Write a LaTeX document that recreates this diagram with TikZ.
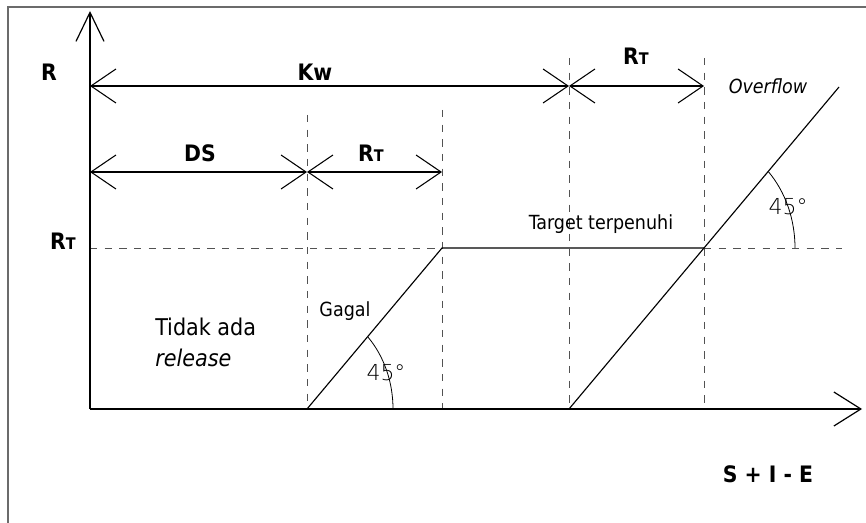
\documentclass[tikz,border=0pt]{standalone}
\usepackage{fontspec}
\setmainfont{DejaVu Sans Condensed}
\newfontfamily\thinfont{DejaVu Sans ExtraLight}
\usetikzlibrary{arrows.meta}

\tikzset{
  frameline/.style={draw=black!58, line width=1.5pt},
  axisline/.style={line width=0.9pt},
  ytip/.style={-{Straight Barb[length=21.75pt, width=21pt]}},
  xtip/.style={-{Straight Barb[length=20.25pt, width=25.5pt]}},
  dimline/.style={line width=0.8pt,
    {Straight Barb[length=18.75pt, width=25.5pt]}-{Straight Barb[length=18.75pt, width=25.5pt]}},
  guide/.style={draw=black!68, line width=0.7pt, dash pattern=on 5.5pt off 5.5pt},
  curveline/.style={line width=0.85pt},
  anglearc/.style={line width=0.6pt},
  boldlbl/.style={inner sep=0pt, anchor=base, font=\fontsize{17}{20}\selectfont\bfseries},
  plainlbl/.style={inner sep=0pt, anchor=base, font=\fontsize{14.6}{18}\selectfont},
  biglbl/.style={inner sep=0pt, anchor=base west, font=\fontsize{17.3}{20}\selectfont},
  anglelbl/.style={inner sep=0pt, anchor=base, font=\fontsize{16.5}{18}\thinfont},
}
\newcommand{\RT}{R{\fontsize{12}{12}\selectfont T}}

\begin{document}
\begin{tikzpicture}[x=0.75pt, y=-0.75pt]
\useasboundingbox (0,0) rectangle (866,523);

% frame lines along the top and left edge
\coordinate (fcorner) at (8,7);
\coordinate (fright) at (866,7);
\coordinate (fbottom) at (8,523);
\draw[frameline] (fbottom) -- (fcorner) -- (fright);

% key points on the axes
\coordinate (O) at (90,409);
\coordinate (ytop) at (90,11);
\coordinate (xend) at (862,409);
\coordinate (xa) at (307,409);
\coordinate (xb) at (442,409);
\coordinate (xc) at (569,409);
\coordinate (xd) at (704,409);
\coordinate (ta) at (307,115);
\coordinate (tb) at (442,110);
\coordinate (tc) at (569,58);
\coordinate (td) at (704,58);

% target level
\coordinate (rl) at (90,248);
\coordinate (rb) at (442,248);
\coordinate (rd) at (704,248);
\coordinate (re) at (842,248);
\coordinate (ovtop) at (839,87);

% dimension lines
\coordinate (k0) at (90,86);
\coordinate (k1) at (569,86);
\coordinate (k2) at (704,86);
\coordinate (d0) at (90,172);
\coordinate (d1) at (307,172);
\coordinate (d2) at (442,172);

% guides
\draw[guide] (ta) -- (xa);
\draw[guide] (tb) -- (xb);
\draw[guide] (tc) -- (xc);
\draw[guide] (td) -- (xd);
\draw[guide] (rl) -- (rb);
\draw[guide] (rd) -- (re);

% axes
\draw[axisline, ytip] (O) -- (ytop);
\draw[axisline, xtip] (O) -- (xend);

% dimensions
\draw[dimline] (k0) -- (k1);
\draw[dimline] (k1) -- (k2);
\draw[dimline] (d0) -- (d1);
\draw[dimline] (d1) -- (d2);

% release curve
\draw[curveline] (xa) -- (rb) -- (rd);
\draw[curveline] (xc) -- (ovtop);

% 45 degree marks
\coordinate (arcA) at (393,409);
\coordinate (arcB) at (795,248);
\draw[anglearc] (arcA) arc[start angle=0, end angle=-45, x radius=86, y radius=102];
\draw[anglearc] (arcB) arc[start angle=0, end angle=-45, x radius=91, y radius=108];

% labels
\node[boldlbl] (lR) at (49,81) {R};
\node[boldlbl] (lKw) at (315,81) {Kw};
\node[boldlbl] (lDS) at (200,162) {DS};
\node[boldlbl] (lRTm) at (371,162) {\RT};
\node[boldlbl] (lRTt) at (636,65) {\RT};
\node[boldlbl] (lRTl) at (63,250) {\RT};
\node[boldlbl] (lSIE) at (768,482) {S + I - E};
\node[plainlbl, font=\fontsize{14.6}{18}\selectfont\itshape] (lOver) at (768,94) {Overflow};
\node[plainlbl] (lTarget) at (601,230) {Target terpenuhi};
\node[plainlbl] (lGagal) at (345,317) {Gagal};
\node[biglbl] (lTidak) at (155,336) {Tidak ada};
\node[biglbl, font=\fontsize{17.3}{20}\selectfont\itshape] (lRel) at (155,367) {release};
\node[anglelbl] (lAngA) at (386,380) {45°};
\node[anglelbl] (lAngB) at (788,215) {45°};
\end{tikzpicture}
\end{document}
